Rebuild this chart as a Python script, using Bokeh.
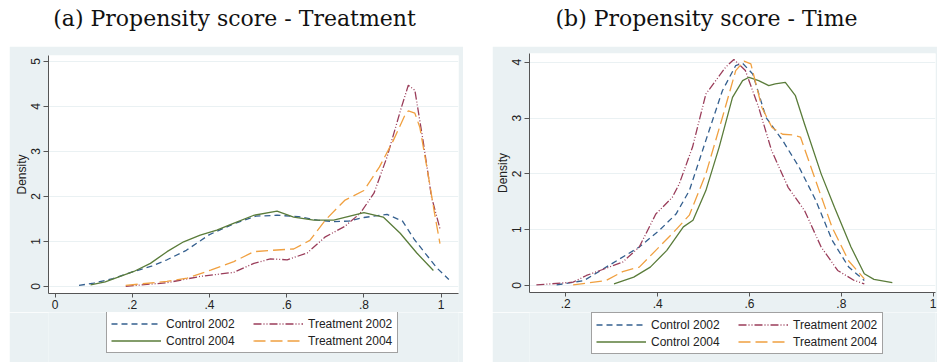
from bokeh.plotting import figure
from bokeh.models import Legend, LegendItem, FixedTicker, Label, Spacer
from bokeh.layouts import row, column
from bokeh.embed import file_html
from bokeh.resources import INLINE

titles = ["(a) Propensity score - Treatment", "(b) Propensity score - Time"]
series_names = ["Control 2002", "Treatment 2002", "Control 2004", "Treatment 2004"]

# ---- Panel (a): Propensity score - Treatment ----
a_x_ticks = [0, 0.2, 0.4, 0.6, 0.8, 1]
a_x_labels = ["0", ".2", ".4", ".6", ".8", "1"]
a_y_ticks = [0, 1, 2, 3, 4, 5]

a_c02_x = [0.062, 0.10, 0.15, 0.204, 0.25, 0.29, 0.34, 0.40, 0.46, 0.52, 0.575, 0.63, 0.68, 0.72, 0.76, 0.80, 0.86, 0.90, 0.93, 0.96, 0.99, 1.02]
a_c02_y = [0.02, 0.07, 0.17, 0.33, 0.45, 0.59, 0.80, 1.15, 1.38, 1.56, 1.58, 1.55, 1.47, 1.44, 1.45, 1.53, 1.60, 1.45, 1.05, 0.72, 0.40, 0.15]

a_t02_x = [0.183, 0.29, 0.376, 0.463, 0.515, 0.558, 0.601, 0.653, 0.70, 0.75, 0.79, 0.826, 0.86, 0.895, 0.915, 0.932, 0.953, 0.975, 0.997]
a_t02_y = [0.00, 0.08, 0.22, 0.31, 0.51, 0.61, 0.59, 0.74, 1.10, 1.33, 1.62, 2.07, 2.88, 3.92, 4.47, 4.36, 3.25, 1.99, 1.28]

a_c04_x = [0.092, 0.13, 0.204, 0.247, 0.29, 0.333, 0.376, 0.419, 0.462, 0.515, 0.575, 0.618, 0.67, 0.722, 0.80, 0.85, 0.894, 0.937, 0.98]
a_c04_y = [0.03, 0.10, 0.33, 0.51, 0.77, 0.99, 1.14, 1.25, 1.40, 1.58, 1.67, 1.54, 1.47, 1.47, 1.64, 1.54, 1.18, 0.74, 0.35]

a_t04_x = [0.183, 0.29, 0.342, 0.403, 0.463, 0.515, 0.56, 0.618, 0.66, 0.70, 0.75, 0.80, 0.84, 0.876, 0.906, 0.915, 0.932, 0.945, 0.966, 0.983, 0.997]
a_t04_y = [0.02, 0.11, 0.18, 0.36, 0.55, 0.77, 0.80, 0.83, 1.02, 1.47, 1.91, 2.13, 2.65, 3.24, 3.80, 3.90, 3.85, 3.53, 2.50, 1.62, 0.95]

# ---- Panel (b): Propensity score - Time ----
b_x_ticks = [0.2, 0.4, 0.6, 0.8, 1]
b_x_labels = [".2", ".4", ".6", ".8", "1"]
b_y_ticks = [0, 1, 2, 3, 4]

b_c02_x = [0.18, 0.24, 0.276, 0.312, 0.36, 0.404, 0.44, 0.469, 0.505, 0.541, 0.57, 0.585, 0.607, 0.636, 0.672, 0.708, 0.744, 0.78, 0.816, 0.85]
b_c02_y = [0.01, 0.09, 0.27, 0.45, 0.69, 0.99, 1.28, 1.70, 2.60, 3.49, 3.94, 3.98, 3.79, 3.01, 2.60, 2.12, 1.53, 0.81, 0.33, 0.09]

b_t02_x = [0.136, 0.216, 0.245, 0.288, 0.324, 0.36, 0.396, 0.432, 0.447, 0.476, 0.505, 0.548, 0.566, 0.591, 0.62, 0.648, 0.684, 0.72, 0.756, 0.792, 0.828, 0.85]
b_t02_y = [0.01, 0.06, 0.18, 0.31, 0.42, 0.69, 1.28, 1.58, 1.82, 2.48, 3.43, 3.91, 4.05, 3.85, 3.19, 2.42, 1.76, 1.34, 0.69, 0.27, 0.09, 0.03]

b_c04_x = [0.305, 0.348, 0.384, 0.42, 0.456, 0.477, 0.505, 0.534, 0.563, 0.585, 0.599, 0.62, 0.642, 0.656, 0.678, 0.70, 0.72, 0.756, 0.785, 0.821, 0.85, 0.871, 0.911]
b_c04_y = [0.03, 0.15, 0.33, 0.63, 1.05, 1.17, 1.70, 2.48, 3.37, 3.67, 3.73, 3.67, 3.58, 3.61, 3.64, 3.40, 2.89, 2.00, 1.40, 0.69, 0.21, 0.11, 0.05]

b_t04_x = [0.216, 0.288, 0.324, 0.36, 0.396, 0.432, 0.469, 0.505, 0.541, 0.57, 0.588, 0.603, 0.627, 0.649, 0.672, 0.693, 0.711, 0.744, 0.78, 0.816, 0.85]
b_t04_y = [0.01, 0.09, 0.25, 0.33, 0.63, 0.93, 1.26, 2.00, 3.01, 3.85, 4.02, 3.97, 3.19, 2.83, 2.71, 2.70, 2.66, 1.88, 1.04, 0.44, 0.12]

# ---- styling ----
colors = ["#35608f", "#9a3d5a", "#5a7c3a", "#f0a040"]
dashes = ["6 4", "8 2 1 2 1 2", "solid", "12 5"]
REGION = "#eaf1f3"
AXIS = "#555555"
SANS = "Liberation Sans"


def make_panel(width, x_range, y_range, xt, xl, yt, series, borders):
    bl, br, bt, bb = borders
    p = figure(width=width, height=266, x_range=x_range, y_range=y_range,
               output_backend="svg", toolbar_location=None,
               min_border_left=bl, min_border_right=br, min_border_top=bt, min_border_bottom=bb)
    p.background_fill_color = "white"
    p.border_fill_color = REGION
    p.outline_line_color = None
    p.xgrid.visible = False
    p.ygrid.ticker = FixedTicker(ticks=yt)
    p.ygrid.grid_line_color = REGION
    p.ygrid.grid_line_width = 1

    p.xaxis.ticker = FixedTicker(ticks=xt)
    p.xaxis.major_label_overrides = {t: l for t, l in zip(xt, xl)}
    p.yaxis.ticker = FixedTicker(ticks=yt)
    p.yaxis.major_label_orientation = "vertical"
    p.yaxis.axis_label = "Density"
    for ax in (p.xaxis[0], p.yaxis[0]):
        ax.axis_line_color = AXIS
        ax.major_tick_line_color = AXIS
        ax.minor_tick_line_color = None
        ax.major_tick_in = 0
        ax.major_label_text_font = SANS
        ax.major_label_text_font_size = "12px"
        ax.major_label_text_color = "#222222"
        ax.axis_label_text_font = SANS
        ax.axis_label_text_font_size = "12px"
        ax.axis_label_text_font_style = "normal"
        ax.axis_label_text_color = "#222222"
    p.xaxis.major_tick_out = 4
    p.xaxis.major_label_standoff = 2
    p.yaxis.major_tick_out = 5
    p.yaxis.major_label_standoff = 3
    p.yaxis.axis_label_standoff = 0

    for name, (xs, ys), c, d in zip(series_names, series, colors, dashes):
        p.line(xs, ys, line_color=c, line_width=1.3, line_dash=d)
    return p


def make_legend_fig(width, series, loc):
    # legend strip under the panel; its key lines come from the same series,
    # drawn outside this strip's visible range so only the legend shows
    lf = figure(width=width, height=50, output_backend="svg", toolbar_location=None,
                x_axis_location=None, y_axis_location=None, min_border=0,
                x_range=(10, 11), y_range=(10, 11))
    lf.grid.visible = False
    lf.outline_line_color = None
    lf.background_fill_color = REGION
    lf.border_fill_color = REGION
    items = []
    for name, (xs, ys), c, d in zip(series_names, series, colors, dashes):
        r = lf.line(xs, ys, line_color=c, line_width=1.3, line_dash=d)
        items.append(LegendItem(label=name, renderers=[r]))
    legend = Legend(items=items, orientation="horizontal", nrows=2, location=loc,
                    border_line_color="#444444", border_line_width=1,
                    background_fill_color="white", background_fill_alpha=1.0,
                    label_text_font=SANS, label_text_font_size="12px", label_text_color="#222222",
                    glyph_width=50, glyph_height=15, label_height=15, label_width=85,
                    label_standoff=5, spacing=2, padding=4, margin=0)
    lf.add_layout(legend)
    return lf


def make_title(width, text, cx):
    t = figure(width=width, height=46, output_backend="svg", toolbar_location=None,
               x_axis_location=None, y_axis_location=None, min_border=0,
               x_range=(0, 1), y_range=(0, 1))
    t.grid.visible = False
    t.outline_line_color = None
    t.background_fill_color = "white"
    t.border_fill_color = "white"
    t.add_layout(Label(x=cx, y=28, x_units="screen", y_units="screen", text=text,
                       text_align="center", text_baseline="middle",
                       text_font="DejaVu Serif", text_font_size="22px", text_color="#111111"))
    return t


series_a = [(a_c02_x, a_c02_y), (a_t02_x, a_t02_y), (a_c04_x, a_c04_y), (a_t04_x, a_t04_y)]
series_b = [(b_c02_x, b_c02_y), (b_t02_x, b_t02_y), (b_c04_x, b_c04_y), (b_t04_x, b_t04_y)]

pa = make_panel(454, (-0.017, 1.045), (-0.16, 5.133), a_x_ticks, a_x_labels, a_y_ticks,
                series_a, (39, 5, 9, 19))
pb = make_panel(445, (0.121, 1.005), (-0.125, 4.156), b_x_ticks, b_x_labels, b_y_ticks,
                series_b, (34, 2, 7, 20))

# the column aligns these strips' frames with the panel frame below/above them
la = make_legend_fig(454, series_a, (58, 9))
lb = make_legend_fig(445, series_b, (62, 8))

ta = make_title(454, titles[0], 186)
tb = make_title(445, titles[1], 177)

layout = row(Spacer(width=9, height=362), column(ta, pa, la),
             Spacer(width=29, height=362), column(tb, pb, lb))

open("out.html", "w").write(file_html(layout, INLINE))
